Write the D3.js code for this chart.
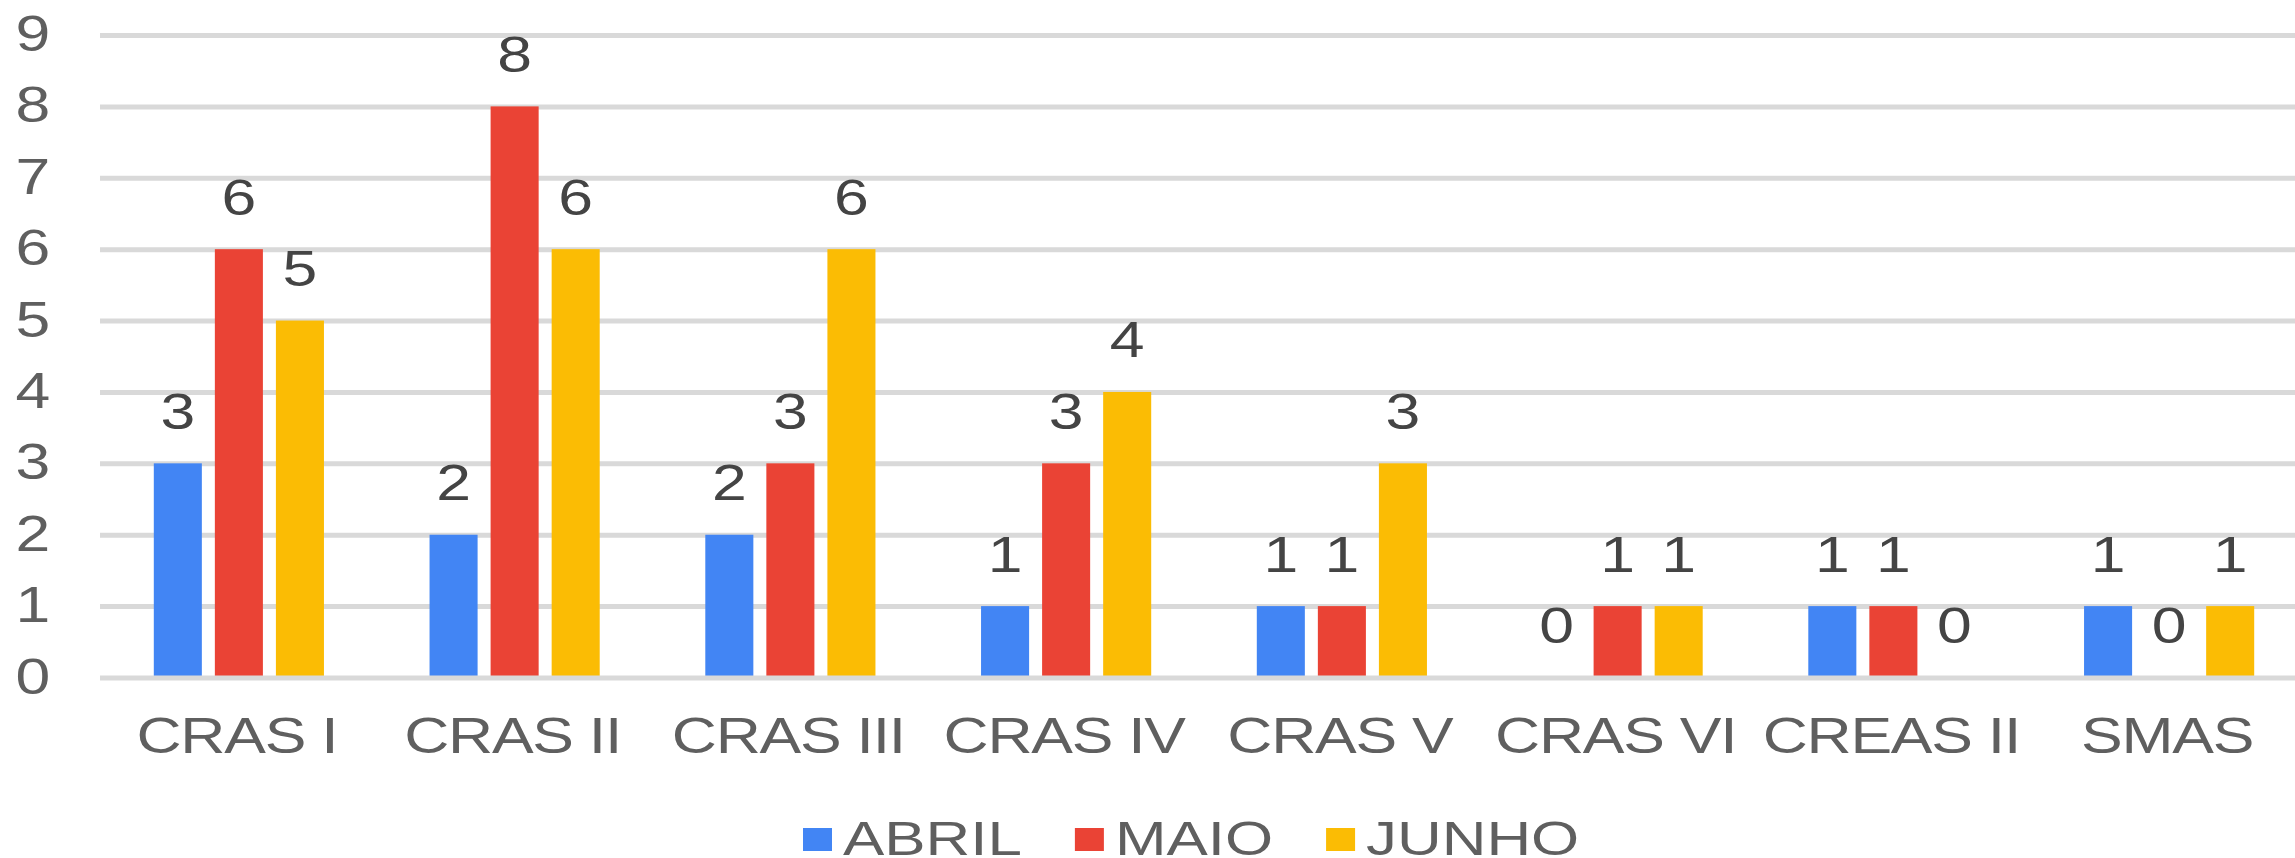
<!DOCTYPE html>
<html>
<head>
<meta charset="utf-8">
<script src="https://cdn.jsdelivr.net/npm/d3@7"></script>
<style>
  html, body { margin: 0; padding: 0; background: #fff; }
  svg { display: block; }
  text { font-family: "Liberation Sans", Arial, sans-serif; }
</style>
</head>
<body>
<svg width="2295" height="858"></svg>
<script>
// данные графика
const categories = ["CRAS I", "CRAS II", "CRAS III", "CRAS IV", "CRAS V", "CRAS VI", "CREAS II", "SMAS"];
const seriesNames = ["ABRIL", "MAIO", "JUNHO"];
const abril = [3, 2, 2, 1, 1, 0, 1, 1];
const maio  = [6, 8, 3, 3, 1, 1, 1, 0];
const junho = [5, 6, 6, 4, 3, 1, 0, 1];
const yTicks = [0, 1, 2, 3, 4, 5, 6, 7, 8, 9];

const seriesValues = [abril, maio, junho];
const colors = ["#4285f4", "#ea4335", "#fbbc04"];

const svg = d3.select("svg");
const W = 2295;
const sx = 1.25; // текст в оригинале растянут по горизонтали

const area = { left: 100, right: 2307, top: 35, bottom: 677.5 };

// шкалы
const scX = d3.scaleBand()
  .domain(categories)
  .range([area.left + 1, area.right])
  .padding(0);

const scInner = d3.scaleBand()
  .domain(seriesNames)
  .range([52.8, scX.bandwidth() - 52.8])
  .paddingInner(0.213)
  .paddingOuter(0);

const scY = d3.scaleLinear()
  .domain([0, 9])
  .range([area.bottom, area.top]);

// сетка
const grid = svg.append("g")
  .attr("transform", `translate(${area.left}, 0)`)
  .call(d3.axisRight(scY).tickValues(yTicks.filter(d => d > 0)).tickSize(W - area.left).tickFormat(""));
grid.select(".domain").remove();
grid.selectAll("line").attr("stroke", "#d9d9d9").attr("stroke-width", 5);

// подписи оси Y
svg.append("g").selectAll("text")
  .data(yTicks)
  .join("text")
  .attr("transform", d => `translate(33, ${scY(d) + 16}) scale(${sx}, 1)`)
  .attr("text-anchor", "middle")
  .style("font-size", "50px")
  .style("fill", "#5f5f5f")
  .text(d => d);

// столбцы
const rows = [];
categories.forEach((c, i) => {
  seriesNames.forEach((s, j) => {
    rows.push({ cat: c, series: s, value: seriesValues[j][i], color: colors[j] });
  });
});

svg.append("g").selectAll("rect")
  .data(rows)
  .join("rect")
  .attr("x", d => scX(d.cat) + scInner(d.series))
  .attr("y", d => scY(d.value))
  .attr("width", scInner.bandwidth())
  .attr("height", d => scY(0) - scY(d.value))
  .style("fill", d => d.color);

// базовая линия поверх столбцов
const base = svg.append("g")
  .attr("transform", `translate(${area.left}, 0)`)
  .call(d3.axisRight(scY).tickValues([0]).tickSize(W - area.left).tickFormat(""));
base.select(".domain").remove();
base.selectAll("line").attr("stroke", "#d9d9d9").attr("stroke-width", 5);

// подписи значений
svg.append("g").selectAll("text")
  .data(rows)
  .join("text")
  .attr("transform", d => `translate(${scX(d.cat) + scInner(d.series) + scInner.bandwidth() / 2}, ${scY(d.value) - 34.5}) scale(${sx}, 1)`)
  .attr("text-anchor", "middle")
  .style("font-size", "50px")
  .style("fill", "#444444")
  .text(d => d.value);

// подписи категорий
svg.append("g").selectAll("text")
  .data(categories)
  .join("text")
  .attr("transform", d => `translate(${scX(d) + scX.bandwidth() / 2 - 2}, 753) scale(${sx}, 1)`)
  .attr("text-anchor", "middle")
  .style("font-size", "50px")
  .style("letter-spacing", "-1px")
  .style("fill", "#5f5f5f")
  .text(d => d);

// легенда
const sxLeg = 1.29;
let lx = 803;
seriesNames.forEach((s, j) => {
  svg.append("rect")
    .attr("x", lx)
    .attr("y", 828)
    .attr("width", 29)
    .attr("height", 23)
    .style("fill", colors[j]);
  const t = svg.append("text")
    .attr("transform", `translate(${lx + 40}, 855) scale(${sxLeg}, 1)`)
    .style("font-size", "48px")
    .style("fill", "#5f5f5f")
    .text(s);
  const w = t.node().getComputedTextLength() * sxLeg;
  lx += 40 + w + 53;
});
</script>
</body>
</html>
